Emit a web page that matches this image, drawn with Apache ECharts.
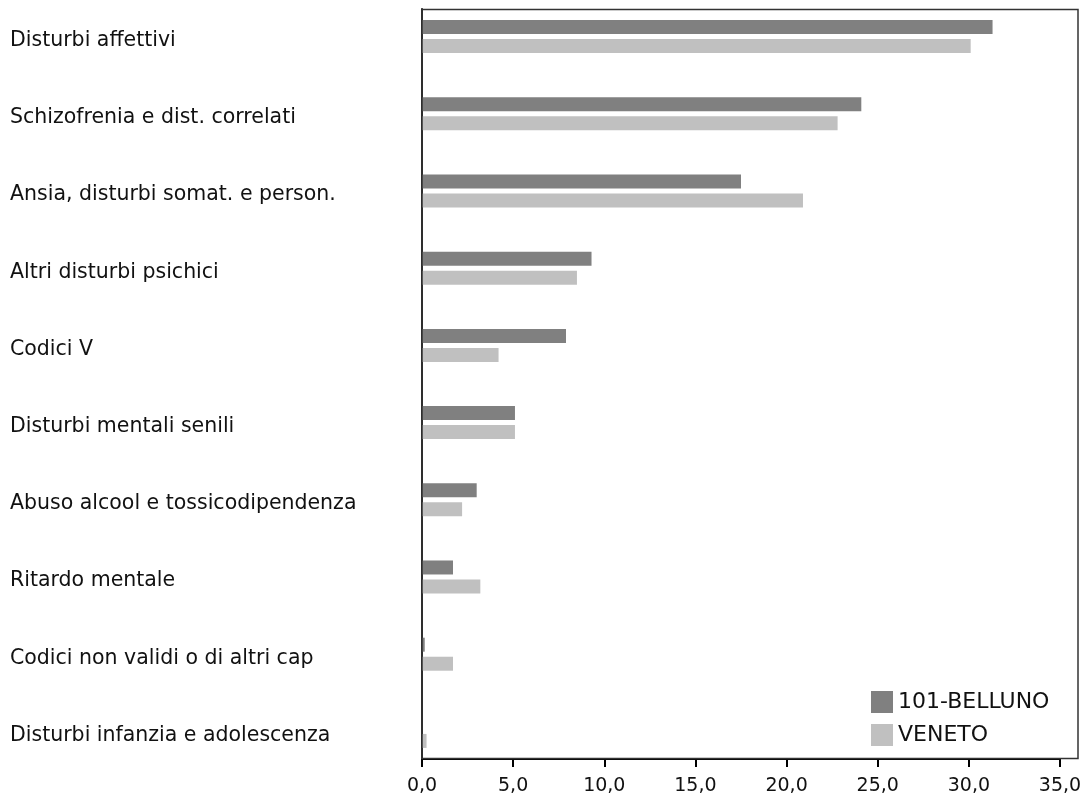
<!DOCTYPE html>
<html>
<head>
<meta charset="utf-8">
<script src="https://cdn.jsdelivr.net/npm/echarts@6/dist/echarts.min.js"></script>
<style>html,body{margin:0;padding:0;background:#fff;}#c{width:1086px;height:808px;}</style>
</head>
<body>
<div id="c"></div>
<script>
var categories = ['Disturbi affettivi','Schizofrenia e dist. correlati','Ansia, disturbi somat. e person.','Altri disturbi psichici','Codici V','Disturbi mentali senili','Abuso alcool e tossicodipendenza','Ritardo mentale','Codici non validi o di altri cap','Disturbi infanzia e adolescenza'];
var belluno = [31.3, 24.1, 17.5, 9.3, 7.9, 5.1, 3.0, 1.7, 0.15, 0.0];
var veneto = [30.1, 22.8, 20.9, 8.5, 4.2, 5.1, 2.2, 3.2, 1.7, 0.25];
var seriesNames = ['101-BELLUNO', 'VENETO'];
var xTicks = {min: 0, max: 35, interval: 5};

var FONT = 'DejaVu Sans';
var chart = echarts.init(document.getElementById('c'), null, {renderer: 'canvas'});
chart.setOption({
  animation: false,
  backgroundColor: '#ffffff',
  grid: [
    {left: 422, right: 26, top: -2, height: 772, outerBoundsMode: 'none', containLabel: false},
    {left: 422, right: 26, top: 9, bottom: 49, outerBoundsMode: 'none', containLabel: false}
  ],
  xAxis: [
    {gridIndex: 0, type: 'value', min: xTicks.min, max: xTicks.max, interval: xTicks.interval,
     show: false},
    {gridIndex: 1, type: 'value', min: xTicks.min, max: xTicks.max, interval: xTicks.interval,
     axisLine: {show: true, lineStyle: {color: '#000', width: 1}},
     axisTick: {show: true, length: 8, lineStyle: {color: '#000', width: 2}},
     splitLine: {show: false},
     axisLabel: {color: '#111', fontFamily: FONT, fontSize: 19, margin: 18,
       formatter: function (v) { return v.toFixed(1).replace('.', ','); }}}
  ],
  yAxis: [
    {gridIndex: 0, type: 'category', data: categories, inverse: true,
     axisLine: {show: false}, axisTick: {show: false},
     axisLabel: {align: 'left', verticalAlign: 'top', margin: 412, color: '#111', fontFamily: FONT, fontSize: 20.5,
       lineHeight: 22, padding: [-7, 0, 0, 0]}},
    {gridIndex: 1, type: 'value', min: 0, max: 1, show: true,
     axisLine: {show: true, lineStyle: {color: '#222', width: 2}},
     axisTick: {show: false}, axisLabel: {show: false}, splitLine: {show: false}}
  ],
  legend: {
    data: seriesNames,
    orient: 'vertical',
    left: 866, top: 686,
    itemWidth: 22, itemHeight: 22, itemGap: 11,
    icon: 'rect',
    textStyle: {fontFamily: FONT, fontSize: 22, color: '#111'}
  },
  graphic: [{
    type: 'rect', z: 10, silent: true,
    shape: {x: 422, y: 9.5, width: 656, height: 749},
    style: {fill: 'none', stroke: '#333', lineWidth: 1.5}
  }],
  series: [
    {name: seriesNames[0], type: 'bar', xAxisIndex: 0, yAxisIndex: 0, data: belluno,
     barWidth: 14, barGap: '36%', itemStyle: {color: '#808080'}},
    {name: seriesNames[1], type: 'bar', xAxisIndex: 0, yAxisIndex: 0, data: veneto,
     barWidth: 14, barGap: '36%', itemStyle: {color: '#c0c0c0'}}
  ]
});
</script>
</body>
</html>
